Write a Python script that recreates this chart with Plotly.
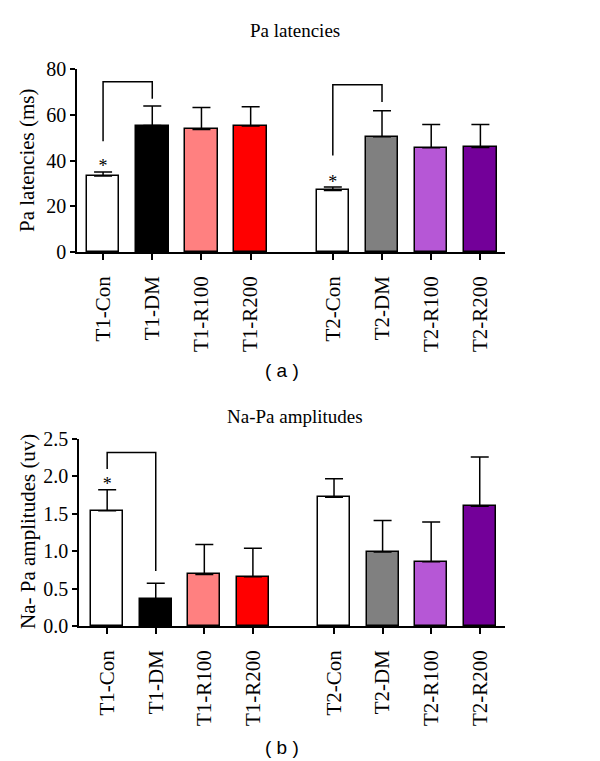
import plotly.graph_objects as go

# ---------------- data ----------------
categories = ["T1-Con", "T1-DM", "T1-R100", "T1-R200",
              "T2-Con", "T2-DM", "T2-R100", "T2-R200"]
bar_colors = ["#FFFFFF", "#000000", "#FF8080", "#FF0000",
              "#FFFFFF", "#808080", "#B657D6", "#730099"]

latency_mean = [33.2, 55.3, 53.6, 55.1, 26.9, 50.4, 45.6, 45.7]
latency_err = [1.8, 8.5, 9.6, 8.4, 1.5, 11.4, 10.1, 10.0]

amplitude_mean = [1.54, 0.36, 0.69, 0.66, 1.72, 0.99, 0.86, 1.60]
amplitude_err = [0.28, 0.21, 0.40, 0.38, 0.25, 0.42, 0.53, 0.66]

# significance brackets: (left idx, right idx, left leg bottom, top, right leg bottom)
latency_brackets = [(0, 1, 48.4, 74.4, 67.0), (4, 5, 42.2, 73.1, 65.6)]
latency_stars = [(0, 37.0), (4, 30.0)]
amplitude_brackets = [(0, 1, 2.10, 2.32, 0.735)]
amplitude_stars = [(0, 1.88)]

# x positions: two groups of four with a gap between
group_gap = 0.67
positions = [i + (group_gap if i >= 4 else 0) for i in range(len(categories))]

SERIF = "Liberation Serif"
W, H = 600, 761
OFFSET = 8  # page body margin in the browser

fig = go.Figure()


def add_panel(xa, ya, means, errs, brackets, stars):
    fig.add_trace(go.Bar(
        x=positions, y=means, width=0.66,
        marker=dict(color=bar_colors, line=dict(color="black", width=1.5)),
        error_y=dict(type="data", symmetric=False, array=errs,
                     arrayminus=[0] * len(errs), color="black",
                     thickness=1.5, width=9),
        xaxis=xa, yaxis=ya, showlegend=False, hoverinfo="skip"))
    for (a, b, lo_l, top, lo_r) in brackets:
        fig.add_trace(go.Scatter(
            x=[positions[a], positions[a], positions[b], positions[b]],
            y=[lo_l, top, top, lo_r], mode="lines",
            line=dict(color="black", width=1.5),
            xaxis=xa, yaxis=ya, showlegend=False, hoverinfo="skip"))
    fig.add_trace(go.Scatter(
        x=[positions[i] for i, _ in stars], y=[v for _, v in stars],
        mode="text", text=["*"] * len(stars), textposition="middle center",
        textfont=dict(family=SERIF, size=18, color="black"),
        xaxis=xa, yaxis=ya, showlegend=False, hoverinfo="skip"))


add_panel("x", "y", latency_mean, latency_err, latency_brackets, latency_stars)
add_panel("x2", "y2", amplitude_mean, amplitude_err, amplitude_brackets, amplitude_stars)


def px_x(p):
    return (p - OFFSET) / W


def px_y(p):
    return 1 - (p - OFFSET) / H


xaxis_common = dict(
    tickmode="array", tickvals=positions, ticktext=categories,
    tickangle=-90, ticks="outside", ticklen=6, tickwidth=1.5, tickcolor="black",
    showline=True, linecolor="black", linewidth=1.5, showgrid=False,
    zeroline=False, tickfont=dict(family=SERIF, size=21, color="black"),
    ticklabelstandoff=8, automargin=False, fixedrange=True)
yaxis_common = dict(
    ticks="outside", ticklen=5, tickwidth=1.5, tickcolor="black",
    showline=True, linecolor="black", linewidth=1.5, showgrid=False,
    zeroline=False, tickfont=dict(family=SERIF, size=20, color="black"),
    automargin=False, fixedrange=True)

fig.update_layout(
    template="none",
    width=W, height=H, margin=dict(l=0, r=0, t=0, b=0, pad=0),
    paper_bgcolor="white", plot_bgcolor="white", bargap=0,
    xaxis=dict(domain=[px_x(77), px_x(505)], range=[-0.53, 8.17],
               anchor="y", **xaxis_common),
    yaxis=dict(domain=[px_y(252), px_y(69)], range=[0, 80],
               tickvals=[0, 20, 40, 60, 80], anchor="x", **yaxis_common),
    xaxis2=dict(domain=[px_x(79), px_x(505)], range=[-0.58, 8.19],
                anchor="y2", **xaxis_common),
    yaxis2=dict(domain=[px_y(626), px_y(439)], range=[0, 2.5],
                tickvals=[0, 0.5, 1.0, 1.5, 2.0, 2.5],
                ticktext=["0.0", "0.5", "1.0", "1.5", "2.0", "2.5"],
                anchor="x2", **yaxis_common),
)

annotations = [
    dict(text="Pa latencies", x=px_x(295), y=px_y(31), font=dict(family=SERIF, size=19)),
    dict(text="Na-Pa amplitudes", x=px_x(295), y=px_y(416), font=dict(family=SERIF, size=19)),
    dict(text="Pa latencies (ms)", x=px_x(27), y=px_y(161), textangle=-90,
         font=dict(family=SERIF, size=21)),
    dict(text="Na- Pa amplitudes (uv)", x=px_x(28), y=px_y(532), textangle=-90,
         font=dict(family=SERIF, size=21)),
    dict(text="( a )", x=px_x(282), y=px_y(370), font=dict(family="Liberation Sans", size=19)),
    dict(text="( b )", x=px_x(282), y=px_y(747), font=dict(family="Liberation Sans", size=19)),
]
for a in annotations:
    a.update(xref="paper", yref="paper", showarrow=False,
             xanchor="center", yanchor="middle")
    a["font"]["color"] = "black"
fig.update_layout(annotations=annotations)

fig.write_html("out.html")
